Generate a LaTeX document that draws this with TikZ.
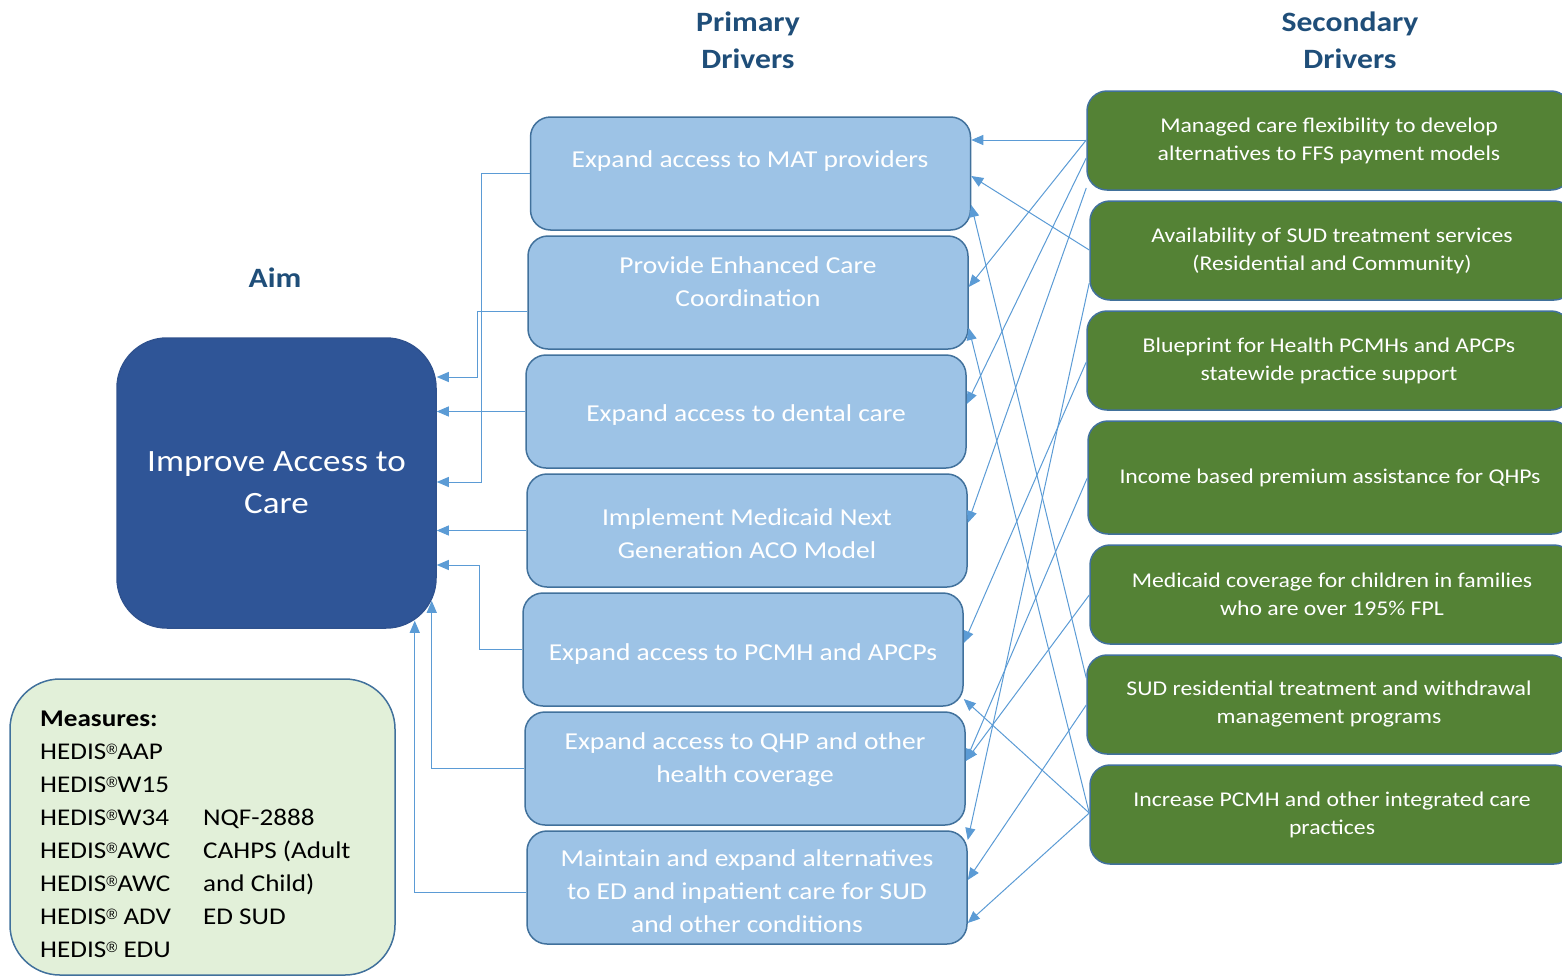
\documentclass[tikz,border=0pt]{standalone}
\usepackage{fontspec}
\setmainfont{Carlito}[FakeStretch = 1.13]
\newfontfamily\regfont{Liberation Sans}
\usepackage{tikz}
\usetikzlibrary{arrows.meta}

\definecolor{cAimFill}{HTML}{2F5597}
\definecolor{cAimLine}{HTML}{2F528F}
\definecolor{cPrimFill}{HTML}{9DC3E6}
\definecolor{cBoxLine}{HTML}{41719C}
\definecolor{cSecFill}{HTML}{548235}
\definecolor{cMeasFill}{HTML}{E2F0D9}
\definecolor{cHead}{HTML}{1F4E79}
\definecolor{cConn}{HTML}{5B9BD5}

\newcommand{\hedis}{HEDIS\raisebox{5pt}{\regfont\fontsize{15}{15}\selectfont ®}}

\begin{document}
\begin{tikzpicture}
[
	x	= 1pt,	% one unit is one pixel of the slide
	y	= -1pt,	% rows are counted downwards
	head/.style	= {text = cHead, font = \fontsize{28}{37}\selectfont\bfseries, align = center},
	aimbox/.style	= {shape = rectangle, rounded corners = 50pt, draw = cAimLine, fill = cAimFill, line width = 1.5pt, minimum width = 319pt, minimum height = 290pt, text = white, font = \fontsize{31}{42}\selectfont, align = center},
	primbox/.style	= {shape = rectangle, rounded corners = 20pt, draw = cBoxLine, fill = cPrimFill, line width = 1.5pt, minimum width = 440pt, minimum height = 113pt},
	primtext/.style	= {text = white, font = \fontsize{24.3}{33}\selectfont, align = center},
	secbox/.style	= {shape = rectangle, rounded corners = 20pt, draw = cBoxLine, fill = cSecFill, line width = 1.5pt, minimum width = 484pt, minimum height = 99pt, text = white, font = \fontsize{21}{28}\selectfont, align = center},
	measbox/.style	= {shape = rectangle, rounded corners = 50pt, draw = cBoxLine, fill = cMeasFill, line width = 1.5pt, minimum width = 385pt, minimum height = 296pt},
	conn/.style	= {draw = cConn, line width = 1pt, -{Triangle[length = 12pt, width = 10pt]}},
]

\useasboundingbox (0,0) rectangle (1562,977);

{
	% nodes declaration
	\node (hAim) [head] at (275,278) {Aim};
	\node (hPrim) [head] at (748,40) {Primary\\Drivers};
	\node (hSec) [head] at (1350,40) {Secondary\\Drivers};

	\node (aim) [aimbox] at (276.5,483) {Improve Access to\\Care};

	\node (measBox) [measbox] at (202.5,827) {};
	\node (measText) [anchor = north west, inner sep = 0pt, font = \fontsize{24}{33}\selectfont] at (40,703)
	{\begin{tabular}{@{}p{163pt}@{}l@{}}
		\textbf{Measures:} & \\
		\hedis AAP & \\
		\hedis W15 & \\
		\hedis W34 & NQF-2888 \\
		\hedis AWC & CAHPS (Adult \\
		\hedis AWC & and Child) \\
		\hedis{} ADV & ED SUD \\
		\hedis{} EDU & \\
	\end{tabular}};

	\node (pOne) [primbox] at (750.5,173.5) {};
	\node (pTwo) [primbox] at (748,292.5) {};
	\node (pThree) [primbox] at (746,411.5) {};
	\node (pFour) [primbox] at (747,530.5) {};
	\node (pFive) [primbox] at (743,649.5) {};
	\node (pSix) [primbox] at (745,768.5) {};
	\node (pSeven) [primbox] at (747,887.5) {};

	\node (pOneText) [primtext] at (750,161) {Expand access to MAT providers};
	\node (pTwoText) [primtext] at (748,282) {Provide Enhanced Care\\Coordination};
	\node (pThreeText) [primtext] at (746,415) {Expand access to dental care};
	\node (pFourText) [primtext] at (747,534) {Implement Medicaid Next\\Generation ACO Model};
	\node (pFiveText) [primtext] at (743,654) {Expand access to PCMH and APCPs};
	\node (pSixText) [primtext] at (745,760) {Expand access to QHP and other\\health coverage};
	\node (pSevenText) [primtext] at (747,891) {Maintain and expand alternatives\\to ED and inpatient care for SUD\\and other conditions};

	\node (sOne) [secbox] at (1329,140.5) {Managed care flexibility to develop\\alternatives to FFS payment models};
	\node (sTwo) [secbox] at (1332,250.5) {Availability of SUD treatment services\\(Residential and Community)};
	\node (sThree) [secbox] at (1329,360.5) {Blueprint for Health PCMHs and APCPs\\statewide practice support};
	\node (sFour) [secbox, minimum height = 113pt] at (1330,477.5) {Income based premium assistance for QHPs};
	\node (sFive) [secbox] at (1332,594.5) {Medicaid coverage for children in families\\who are over 195\% FPL};
	\node (sSix) [secbox] at (1329,704.5) {SUD residential treatment and withdrawal\\management programs};
	\node (sSeven) [secbox] at (1332,814.5) {Increase PCMH and other integrated care\\practices};

	% edges declartion, primary drivers to the aim
	\draw [conn] (pOne.west) -- ++(-48,0) |- (aim.east |- 0,482);
	\draw [conn] (pTwo.west |- 0,311) -- ++(-50,0) |- (aim.east |- 0,377);
	\draw [conn] (pThree.west) -- (aim.east |- pThree.west);
	\draw [conn] (pFour.west) -- (aim.east |- pFour.west);
	\draw [conn] (pFive.west) -- ++(-43,0) |- (aim.east |- 0,565);
	\draw [conn] (pSix.west) -| ([xshift = -5pt, yshift = 28pt]aim.south east);
	\draw [conn] (pSeven.west |- 0,892) -| ([xshift = -22pt, yshift = 8pt]aim.south east);

	% edges declartion, secondary drivers to primary drivers
	\draw [conn] (sOne.west |- 0,140) -- (pOne.east |- 0,140);
	\draw [conn] (sOne.west |- 0,140) -- (pTwo.east |- 0,287);
	\draw [conn] (sOne.west |- 0,158) -- (pThree.east |- 0,404);
	\draw [conn] (sOne.west |- 0,188) -- (pFour.east |- 0,523);
	\draw [conn] (sTwo.west |- 0,250) -- (pOne.east |- 0,176);
	\draw [conn] (sTwo.west |- 0,283) -- (pSeven.east |- 0,840);
	\draw [conn] (sThree.west |- 0,362) -- (pFive.east |- 0,643);
	\draw [conn] (sFour.west |- 0,478) -- (pSix.east |- 0,761);
	\draw [conn] (sFive.west |- 0,595) -- (pSix.east |- 0,761);
	\draw [conn] (sSix.west |- 0,678) -- (pOne.east |- 0,205);
	\draw [conn] (sSix.west |- 0,705) -- (pSeven.east |- 0,880);
	\draw [conn] (sSeven.west |- 0,813) -- (pTwo.east |- 0,328);
	\draw [conn] (sSeven.west |- 0,813) -- (pFive.east |- 0,699);
	\draw [conn] (sSeven.west |- 0,813) -- (pSeven.east |- 0,923);
}

\end{tikzpicture}
\end{document}
